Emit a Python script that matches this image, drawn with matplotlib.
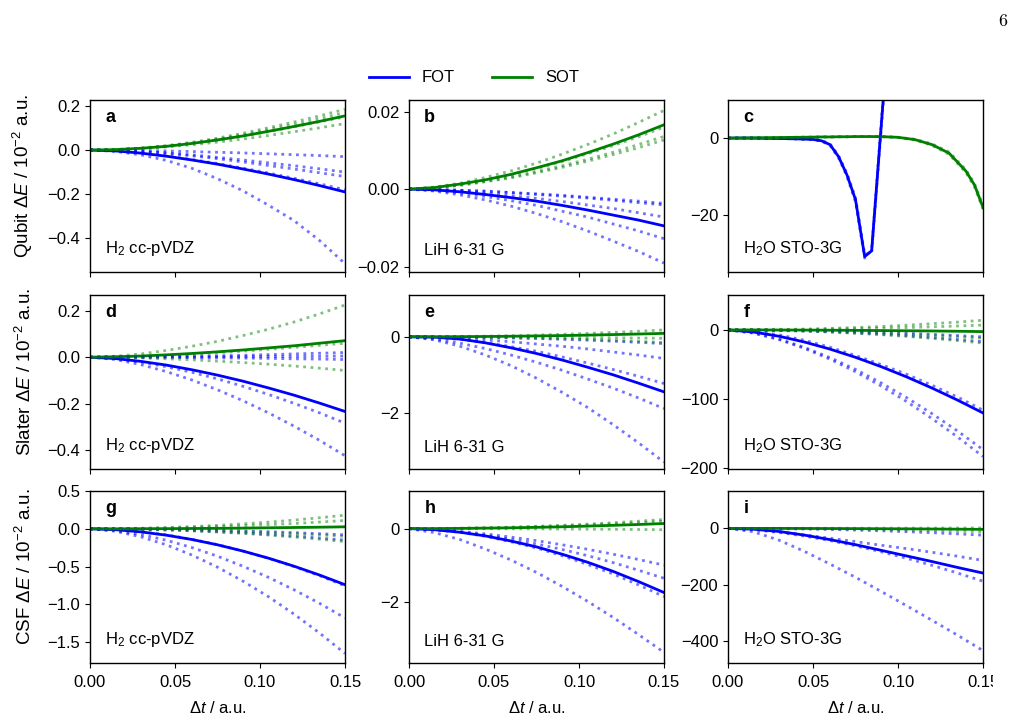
import numpy as np
import matplotlib
matplotlib.use("Agg")
import matplotlib.pyplot as plt
from matplotlib.lines import Line2D
from matplotlib.transforms import Bbox

plt.rcParams['font.family'] = ['Liberation Sans', 'DejaVu Sans']
plt.rcParams['font.size'] = 12
plt.rcParams['mathtext.fontset'] = 'custom'
plt.rcParams['mathtext.rm'] = 'Liberation Sans'
plt.rcParams['mathtext.it'] = 'Liberation Sans:italic'
plt.rcParams['mathtext.bf'] = 'Liberation Sans:bold'
plt.rcParams['axes.linewidth'] = 1.0
plt.rcParams['xtick.major.pad'] = 5

# time step grid (a.u.)
dt = [0.0, 0.015, 0.03, 0.045, 0.06, 0.075, 0.09, 0.105, 0.12, 0.135, 0.15]
dt_c = [0.0, 0.01, 0.02, 0.03, 0.04, 0.05, 0.055, 0.06, 0.065, 0.07, 0.075,
        0.0804, 0.0845, 0.092, 0.10, 0.11, 0.12, 0.13, 0.14, 0.145, 0.15]

# --- Qubit, H2 cc-pVDZ (a)
a_fot = [0, -0.004, -0.014, -0.028, -0.045, -0.064, -0.086, -0.109, -0.134, -0.161, -0.190]
a_sot = [0, 0.002, 0.008, 0.017, 0.030, 0.046, 0.064, 0.085, 0.107, 0.130, 0.155]
a_fot_dots = [
    [0, -0.001, -0.002, -0.004, -0.007, -0.010, -0.013, -0.017, -0.021, -0.025, -0.030],
    [0, -0.002, -0.006, -0.013, -0.022, -0.033, -0.045, -0.058, -0.071, -0.085, -0.100],
    [0, -0.002, -0.007, -0.015, -0.026, -0.039, -0.054, -0.070, -0.086, -0.103, -0.120],
    [0, -0.004, -0.013, -0.026, -0.043, -0.061, -0.082, -0.104, -0.128, -0.153, -0.180],
    [0, -0.006, -0.022, -0.047, -0.083, -0.130, -0.185, -0.250, -0.320, -0.410, -0.515],
]
a_sot_dots = [
    [0, 0.002, 0.009, 0.020, 0.035, 0.054, 0.076, 0.101, 0.127, 0.155, 0.185],
    [0, 0.002, 0.008, 0.018, 0.032, 0.049, 0.069, 0.092, 0.116, 0.142, 0.170],
    [0, 0.002, 0.007, 0.014, 0.024, 0.036, 0.050, 0.066, 0.083, 0.101, 0.120],
    [0, 0.002, 0.008, 0.017, 0.030, 0.045, 0.063, 0.083, 0.105, 0.128, 0.150],
]

# --- Qubit, LiH 6-31 G (b)
b_fot = [0, -0.0002, -0.0007, -0.0014, -0.0022, -0.0031, -0.0042, -0.0054, -0.0067, -0.0080, -0.0095]
b_sot = [0, 0.0004, 0.0013, 0.0024, 0.0038, 0.0055, 0.0073, 0.0094, 0.0116, 0.0140, 0.0166]
b_fot_dots = [
    [0, -0.0001, -0.0003, -0.0005, -0.0009, -0.0012, -0.0016, -0.0021, -0.0026, -0.0031, -0.0037],
    [0, -0.0001, -0.0003, -0.0006, -0.0009, -0.0014, -0.0018, -0.0023, -0.0029, -0.0035, -0.0041],
    [0, -0.0002, -0.0005, -0.0011, -0.0017, -0.0024, -0.0032, -0.0041, -0.0050, -0.0061, -0.0072],
    [0, -0.0003, -0.0010, -0.0019, -0.0030, -0.0042, -0.0057, -0.0072, -0.0090, -0.0108, -0.0128],
    [0, -0.0005, -0.0015, -0.0028, -0.0044, -0.0063, -0.0084, -0.0108, -0.0134, -0.0161, -0.0191],
]
b_sot_dots = [
    [0, 0.0005, 0.0015, 0.0030, 0.0047, 0.0067, 0.0090, 0.0115, 0.0142, 0.0172, 0.0203],
    [0, 0.0003, 0.0010, 0.0020, 0.0031, 0.0045, 0.0060, 0.0077, 0.0095, 0.0115, 0.0136],
    [0, 0.0003, 0.0010, 0.0019, 0.0029, 0.0042, 0.0056, 0.0072, 0.0089, 0.0107, 0.0127],
    [0, 0.0004, 0.0012, 0.0023, 0.0037, 0.0053, 0.0071, 0.0091, 0.0112, 0.0135, 0.0160],
]

# --- Qubit, H2O STO-3G (c), finer grid dt_c
c_fot = [0, 0, -0.05, -0.1, -0.2, -0.35, -0.7, -1.7, -4.8, -9.6, -16.0,
         -30.8, -29.3, 14, 60, 110, 160, 210, 260, 290, 320]
c_sot = [0, 0.05, 0.1, 0.15, 0.2, 0.25, 0.3, 0.3, 0.35, 0.35, 0.4,
         0.4, 0.4, 0.35, 0.2, -0.4, -1.7, -3.9, -8.6, -12.2, -18.0]
c_fot_dots = [
    [0, 0, -0.05, -0.1, -0.2, -0.4, -0.8, -1.9, -5.1, -10.0, -16.6,
     -31.2, -29.0, 15, 62, 112, 162, 212, 262, 292, 322],
    [0, 0, -0.05, -0.1, -0.2, -0.3, -0.6, -1.5, -4.5, -9.2, -15.5,
     -30.2, -29.8, 13, 58, 108, 158, 208, 258, 288, 318],
]
c_sot_dots = [
    [0, 0.05, 0.1, 0.15, 0.2, 0.25, 0.3, 0.3, 0.35, 0.35, 0.4,
     0.4, 0.4, 0.35, 0.2, -0.5, -1.9, -4.2, -9.0, -12.7, -18.5],
    [0, 0.05, 0.1, 0.15, 0.2, 0.25, 0.3, 0.3, 0.35, 0.35, 0.4,
     0.4, 0.4, 0.35, 0.2, -0.3, -1.5, -3.6, -8.2, -11.8, -17.5],
]

# --- Slater, H2 cc-pVDZ (d)
d_fot = [0, -0.006, -0.018, -0.034, -0.054, -0.077, -0.103, -0.132, -0.163, -0.197, -0.233]
d_sot = [0, 0.002, 0.005, 0.010, 0.016, 0.023, 0.031, 0.040, 0.049, 0.060, 0.071]
d_fot_dots = [
    [0, -0.007, -0.021, -0.041, -0.065, -0.093, -0.125, -0.160, -0.198, -0.239, -0.283],
    [0, -0.010, -0.032, -0.062, -0.098, -0.140, -0.187, -0.239, -0.296, -0.357, -0.423],
    [0, 0.000, 0.001, 0.002, 0.004, 0.006, 0.008, 0.011, 0.014, 0.017, 0.020],
    [0, 0.000, 0.000, 0.001, 0.001, 0.002, 0.002, 0.003, 0.003, 0.004, 0.005],
    [0, 0.000, -0.001, -0.001, -0.002, -0.003, -0.004, -0.005, -0.007, -0.008, -0.010],
]
d_sot_dots = [
    [0, 0.004, 0.014, 0.029, 0.047, 0.068, 0.093, 0.120, 0.151, 0.186, 0.224],
    [0, 0.001, 0.004, 0.008, 0.013, 0.019, 0.026, 0.034, 0.042, 0.051, 0.060],
    [0, -0.001, -0.003, -0.007, -0.011, -0.017, -0.023, -0.030, -0.038, -0.047, -0.057],
]

# --- Slater, LiH 6-31 G (e)
e_fot = [0, -0.01, -0.06, -0.16, -0.29, -0.44, -0.61, -0.80, -1.00, -1.22, -1.45]
e_sot = [0, 0.001, 0.004, 0.008, 0.014, 0.023, 0.032, 0.044, 0.058, 0.073, 0.090]
e_fot_dots = [
    [0, -0.002, -0.007, -0.016, -0.029, -0.045, -0.065, -0.088, -0.115, -0.146, -0.18],
    [0, -0.014, -0.043, -0.083, -0.13, -0.19, -0.25, -0.32, -0.40, -0.48, -0.57],
    [0, -0.02, -0.07, -0.15, -0.26, -0.38, -0.53, -0.69, -0.86, -1.04, -1.23],
    [0, -0.06, -0.17, -0.31, -0.48, -0.67, -0.88, -1.11, -1.35, -1.61, -1.89],
    [0, -0.08, -0.25, -0.48, -0.76, -1.09, -1.46, -1.86, -2.31, -2.79, -3.30],
]
e_sot_dots = [
    [0, 0.002, 0.007, 0.016, 0.029, 0.045, 0.065, 0.088, 0.115, 0.146, 0.18],
    [0, 0.0, -0.002, -0.004, -0.006, -0.01, -0.014, -0.02, -0.026, -0.032, -0.04],
    [0, -0.002, -0.006, -0.014, -0.024, -0.038, -0.054, -0.073, -0.096, -0.12, -0.15],
]

# --- Slater, H2O STO-3G (f)
f_fot = [0, -3, -9.1, -17.5, -27.7, -39.6, -53, -67.8, -84, -101.4, -120]
f_sot = [0, 0, -0.1, -0.2, -0.4, -0.6, -0.9, -1.2, -1.5, -1.9, -2.4]
f_fot_dots = [
    [0, -2, -7, -15, -25, -37, -50, -64, -80, -97, -116],
    [0, -4.3, -13.1, -25.3, -40, -57, -76.5, -97.7, -121, -146, -173],
    [0, -4.6, -13.9, -26.7, -42.3, -60.4, -80.9, -103.4, -128.1, -154.6, -183],
    [0, -0.1, -0.4, -0.9, -1.6, -2.5, -3.6, -4.9, -6.4, -8.1, -10],
    [0, -0.2, -0.7, -1.5, -2.7, -4.3, -6.1, -8.3, -10.9, -13.8, -17],
]
f_sot_dots = [
    [0, 0.1, 0.6, 1.3, 2.2, 3.5, 5.0, 6.9, 9.0, 11.3, 14],
    [0, 0.1, 0.3, 0.6, 1.1, 1.8, 2.5, 3.4, 4.5, 5.7, 7],
    [0, -0.1, -0.5, -1.1, -1.9, -3.0, -4.3, -5.9, -7.7, -9.7, -12],
    [0, -0.2, -0.8, -1.7, -3.0, -4.8, -6.8, -9.3, -12.2, -15.4, -19],
]

# --- CSF, H2 cc-pVDZ (g)
g_fot = [0, -0.012, -0.041, -0.085, -0.142, -0.212, -0.295, -0.389, -0.495, -0.612, -0.74]
g_sot = [0, 0, 0.001, 0.002, 0.004, 0.006, 0.009, 0.013, 0.017, 0.021, 0.026]
g_fot_dots = [
    [0, -0.01, -0.04, -0.08, -0.14, -0.21, -0.295, -0.39, -0.50, -0.62, -0.755],
    [0, -0.024, -0.077, -0.152, -0.249, -0.363, -0.496, -0.643, -0.807, -0.986, -1.18],
    [0, -0.033, -0.107, -0.213, -0.348, -0.508, -0.693, -0.899, -1.129, -1.379, -1.65],
    [0, -0.001, -0.003, -0.007, -0.013, -0.02, -0.029, -0.039, -0.051, -0.065, -0.08],
    [0, -0.002, -0.006, -0.014, -0.024, -0.038, -0.054, -0.074, -0.096, -0.122, -0.15],
]
g_sot_dots = [
    [0, 0.002, 0.007, 0.016, 0.029, 0.045, 0.065, 0.088, 0.115, 0.146, 0.18],
    [0, 0.001, 0.004, 0.010, 0.018, 0.028, 0.040, 0.054, 0.070, 0.089, 0.11],
    [0, -0.001, -0.004, -0.009, -0.016, -0.025, -0.036, -0.049, -0.064, -0.081, -0.10],
    [0, -0.002, -0.007, -0.015, -0.027, -0.043, -0.061, -0.083, -0.109, -0.138, -0.17],
]

# --- CSF, LiH 6-31 G (h)
h_fot = [0, -0.03, -0.10, -0.20, -0.34, -0.50, -0.70, -0.92, -1.17, -1.45, -1.75]
h_sot = [0, 0.001, 0.006, 0.013, 0.022, 0.035, 0.050, 0.069, 0.090, 0.113, 0.14]
h_fot_dots = [
    [0, -0.025, -0.076, -0.146, -0.231, -0.33, -0.442, -0.565, -0.70, -0.845, -1.0],
    [0, -0.03, -0.09, -0.18, -0.29, -0.42, -0.57, -0.74, -0.93, -1.14, -1.36],
    [0, -0.03, -0.10, -0.21, -0.36, -0.53, -0.74, -0.98, -1.24, -1.54, -1.86],
    [0, -0.11, -0.30, -0.56, -0.86, -1.20, -1.58, -1.99, -2.43, -2.90, -3.39],
]
h_sot_dots = [
    [0, 0.003, 0.01, 0.023, 0.04, 0.063, 0.09, 0.123, 0.16, 0.203, 0.25],
    [0, 0.002, 0.008, 0.018, 0.032, 0.05, 0.072, 0.098, 0.128, 0.162, 0.20],
    [0, 0.0, -0.001, -0.003, -0.005, -0.008, -0.011, -0.015, -0.019, -0.024, -0.03],
]

# --- CSF, H2O STO-3G (i)
i_fot = [0, -3, -11, -24, -40, -58, -78, -98, -118, -139, -159]
i_sot = [0, 0, -0.1, -0.3, -0.6, -0.9, -1.3, -1.7, -2.2, -2.8, -3.5]
i_fot_dots = [
    [0, -4, -12, -23, -35, -47, -60, -72, -85, -99, -114],
    [0, -4.7, -14.3, -27.4, -43.4, -62, -83.1, -106.2, -131.6, -158.9, -188],
    [0, -12, -42, -82, -127, -174, -224, -275, -327, -380, -435],
    [0, -0.2, -1, -2.2, -3.8, -6, -8.6, -11.8, -15.4, -19.4, -24],
]
i_sot_dots = [
    [0, -0.1, -0.5, -1.1, -1.9, -3, -4.3, -5.9, -7.7, -9.7, -12],
    [0, 0, 0.1, 0.2, 0.3, 0.4, 0.6, 0.8, 1.0, 1.3, 1.5],
]

row_names = ["Qubit", "Slater", "CSF"]
systems = [r"H$_2$ cc-pVDZ", "LiH 6-31 G", r"H$_2$O STO-3G"]
letters = ["a", "b", "c", "d", "e", "f", "g", "h", "i"]

panels = [
    (dt, a_fot, a_sot, a_fot_dots, a_sot_dots, (-0.553, 0.227), [-0.4, -0.2, 0.0, 0.2]),
    (dt, b_fot, b_sot, b_fot_dots, b_sot_dots, (-0.0214, 0.023), [-0.02, 0.0, 0.02]),
    (dt_c, c_fot, c_sot, c_fot_dots, c_sot_dots, (-34.8, 9.9), [-20, 0]),
    (dt, d_fot, d_sot, d_fot_dots, d_sot_dots, (-0.48, 0.267), [-0.4, -0.2, 0.0, 0.2]),
    (dt, e_fot, e_sot, e_fot_dots, e_sot_dots, (-3.48, 1.10), [-2, 0]),
    (dt, f_fot, f_sot, f_fot_dots, f_sot_dots, (-201, 50.5), [-200, -100, 0]),
    (dt, g_fot, g_sot, g_fot_dots, g_sot_dots, (-1.776, 0.5), [-1.5, -1.0, -0.5, 0.0, 0.5]),
    (dt, h_fot, h_sot, h_fot_dots, h_sot_dots, (-3.68, 1.03), [-2, 0]),
    (dt, i_fot, i_sot, i_fot_dots, i_sot_dots, (-479, 133), [-400, -200, 0]),
]

W, H = 1011, 721
fig = plt.figure(figsize=(W / 100, H / 100), dpi=100)

col_left = [90, 409, 728]
row_top = [100, 295, 491]
row_h = [172, 174, 172]
ax_w = 255

for k, (x, fot, sot, fot_dots, sot_dots, ylim, yticks) in enumerate(panels):
    r, c = divmod(k, 3)
    ax = fig.add_axes([col_left[c] / W, 1 - (row_top[r] + row_h[r]) / H,
                       ax_w / W, row_h[r] / H])
    ax.plot(x, fot, color="blue", lw=2)
    ax.plot(x, sot, color="green", lw=2)
    for y in fot_dots:
        ax.plot(x, y, color="blue", lw=2, ls=":", alpha=0.55)
    for y in sot_dots:
        ax.plot(x, y, color="green", lw=2, ls=":", alpha=0.5)
    ax.set_xlim(0, 0.15)
    ax.set_xticks([0.0, 0.05, 0.10, 0.15])
    ax.set_ylim(*ylim)
    ax.set_yticks(yticks)
    if r < 2:
        ax.set_xticklabels([])
    else:
        ax.set_xlabel(r"$\Delta t$ / a.u.", labelpad=7)
        if c == 2:
            # the page crop cuts the last tick label
            lbl = ax.get_xticklabels()[-1]
            lbl.set_clip_box(Bbox.from_extents(0, 0, 993, H))
            lbl.set_clip_on(True)
    if c == 0:
        ax.set_ylabel(row_names[r] + r" $\Delta E$ / 10$^{-2}$ a.u.", fontsize=13.5)
        ax.yaxis.set_label_coords(-0.215, 0.56)
    ax.text(0.06, 0.90, letters[k], transform=ax.transAxes, fontsize=13,
            fontweight="bold", va="center", ha="left")
    ax.text(0.06, 0.08, systems[c], transform=ax.transAxes, fontsize=12,
            va="bottom", ha="left")

handles = [Line2D([], [], color="blue", lw=2), Line2D([], [], color="green", lw=2)]
fig.legend(handles, ["FOT", "SOT"], loc="center", bbox_to_anchor=(474 / W, 1 - 78 / H),
           ncol=2, frameon=False, handlelength=2.4, columnspacing=2.2, fontsize=12)

fig.text(1003 / W, 1 - 22 / H, r"$6$", math_fontfamily="cm", fontsize=13,
         ha="center", va="center")

fig.savefig("out.png", dpi=100)
